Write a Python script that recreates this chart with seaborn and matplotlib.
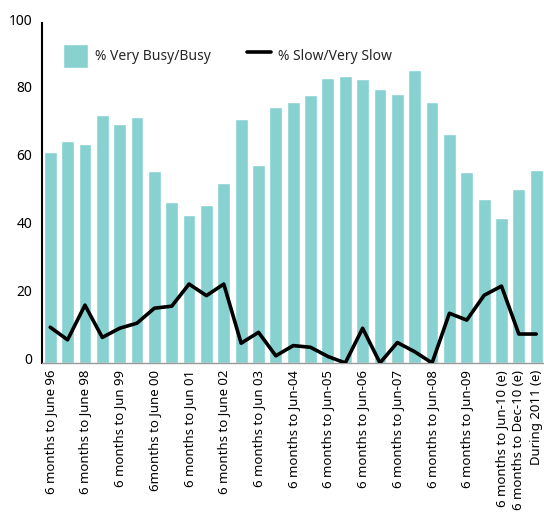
import numpy as np
import pandas as pd
import seaborn as sns
import matplotlib.pyplot as plt
import matplotlib.transforms as mtransforms

# Données
busy = [62.0, 65.2, 64.3, 72.9, 70.2, 72.3, 56.4, 47.3, 43.5, 46.4,
        52.9, 71.7, 58.2, 75.2, 76.7, 78.7, 83.7, 84.3, 83.4, 80.5,
        79.0, 86.1, 76.7, 67.3, 56.1, 48.2, 42.6, 51.1, 56.7]
slow = [10.5, 6.8, 17.0, 7.5, 10.2, 11.7, 16.1, 16.7, 23.2, 19.8,
        23.2, 5.8, 9.0, 2.1, 5.1, 4.6, 1.9, 0.0, 10.2, 0.0,
        6.0, 3.3, 0.0, 14.6, 12.6, 19.9, 22.6, 8.5, 8.5]
tick_labels = ["6 months to June 96", "", "6 months to June 98", "", "6 months to Jun 99", "",
               "6months to June 00", "", "6 months to Jun 01", "", "6 months to June 02", "",
               "6 months to Jun 03", "", "6 months to Jun-04", "", "6 months to Jun-05", "",
               "6 months to Jun-06", "", "6 months to Jun-07", "", "6 months to Jun-08", "",
               "6 months to Jun-09", "", "6 months to Jun-10 (e)", "6 months to Dec-10 (e)",
               "During 2011 (e)"]

df = pd.DataFrame({'idx': np.arange(len(busy)), 'busy': busy, 'slow': slow})

sns.set_style("white")
plt.rcParams['font.family'] = ['Noto Sans', 'DejaVu Sans']

fig = plt.figure(figsize=(5.44, 5.17), dpi=100)
ax = fig.add_axes([0.077, 0.298, 0.923, 0.6575])

sns.barplot(data=df, x='idx', y='busy', color='#87D1D0', width=0.74,
            saturation=1, ax=ax, label='% Very Busy/Busy', zorder=2)
sns.lineplot(data=df, x='idx', y='slow', color='black', linewidth=2.6,
             ax=ax, label='% Slow/Very Slow', zorder=3)

ax.set_xlim(-0.48, 28.45)
ax.set_ylim(0, 100)
ax.set_yticks([0, 20, 40, 60, 80, 100])
ax.set_xticks(df['idx'])
ax.set_xticklabels(tick_labels, rotation=90, fontsize=9.5, color='black')
ax.tick_params(axis='x', length=0, pad=5)
ax.tick_params(axis='y', length=0, pad=7, labelsize=10, labelcolor='black')
ax.set_xlabel("")
ax.set_ylabel("")

# les étiquettes de l'axe y sont un peu au-dessus des graduations
decal = mtransforms.ScaledTranslation(0, 4 / 100, fig.dpi_scale_trans)
for lab in ax.get_yticklabels():
    lab.set_transform(lab.get_transform() + decal)

for side in ['top', 'right']:
    ax.spines[side].set_visible(False)
ax.spines['left'].set_color('black')
ax.spines['left'].set_linewidth(1.5)
ax.spines['bottom'].set_color('#999999')
ax.spines['bottom'].set_linewidth(1)

handles, labels = ax.get_legend_handles_labels()
ordre = [labels.index('% Very Busy/Busy'), labels.index('% Slow/Very Slow')]
ax.legend([handles[i] for i in ordre], [labels[i] for i in ordre],
          loc='upper left', bbox_to_anchor=(0.018, 0.975), ncol=2, frameon=False,
          fontsize=10, handlelength=1.75, handleheight=2.3, columnspacing=2.6,
          handletextpad=0.5)

plt.savefig('out.png', dpi=100)
